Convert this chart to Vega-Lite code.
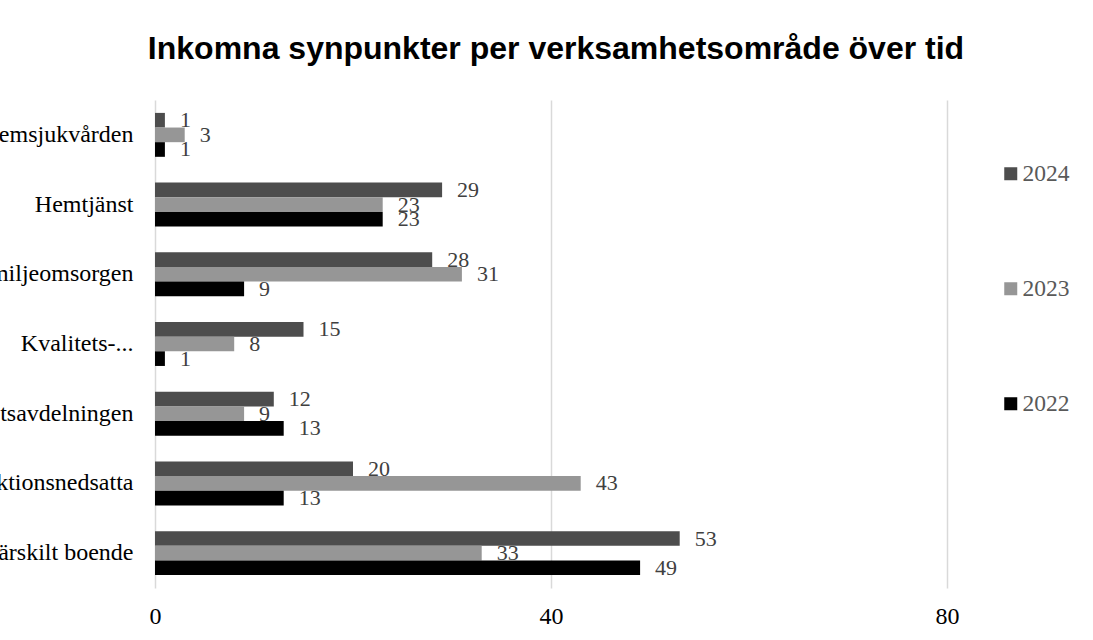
{
  "$schema": "https://vega.github.io/schema/vega-lite/v6.json",
  "width": 792,
  "height": 488,
  "autosize": {"type": "none"},
  "padding": {"left": 155, "top": 100, "right": 146, "bottom": 52},
  "background": "white",
  "title": {
    "text": "Inkomna synpunkter per verksamhetsområde över tid",
    "font": "Liberation Sans",
    "fontSize": 32,
    "fontWeight": "bold",
    "color": "#000000",
    "anchor": "middle",
    "frame": "group",
    "dx": 5,
    "offset": 34
  },
  "config": {
    "view": {"stroke": null},
    "axis": {"labelFont": "Liberation Serif"}
  },
  "data": {
    "values": [
      {"cat": "Hemsjukvården", "year": "2024", "value": 1},
      {"cat": "Hemsjukvården", "year": "2023", "value": 3},
      {"cat": "Hemsjukvården", "year": "2022", "value": 1},
      {"cat": "Hemtjänst", "year": "2024", "value": 29},
      {"cat": "Hemtjänst", "year": "2023", "value": 23},
      {"cat": "Hemtjänst", "year": "2022", "value": 23},
      {"cat": "Individ- och familjeomsorgen", "year": "2024", "value": 28},
      {"cat": "Individ- och familjeomsorgen", "year": "2023", "value": 31},
      {"cat": "Individ- och familjeomsorgen", "year": "2022", "value": 9},
      {"cat": "Kvalitets-...", "year": "2024", "value": 15},
      {"cat": "Kvalitets-...", "year": "2023", "value": 8},
      {"cat": "Kvalitets-...", "year": "2022", "value": 1},
      {"cat": "Myndighetsavdelningen", "year": "2024", "value": 12},
      {"cat": "Myndighetsavdelningen", "year": "2023", "value": 9},
      {"cat": "Myndighetsavdelningen", "year": "2022", "value": 13},
      {"cat": "Funktionsnedsatta", "year": "2024", "value": 20},
      {"cat": "Funktionsnedsatta", "year": "2023", "value": 43},
      {"cat": "Funktionsnedsatta", "year": "2022", "value": 13},
      {"cat": "Särskilt boende", "year": "2024", "value": 53},
      {"cat": "Särskilt boende", "year": "2023", "value": 33},
      {"cat": "Särskilt boende", "year": "2022", "value": 49}
    ]
  },
  "encoding": {
    "y": {
      "field": "cat",
      "type": "nominal",
      "sort": null,
      "scale": {"paddingInner": 0.37, "paddingOuter": 0.185},
      "axis": {
        "title": null,
        "domain": false,
        "ticks": false,
        "tickSize": 0,
        "labelFont": "Liberation Serif",
        "labelFontSize": 24,
        "labelColor": "#000000",
        "labelPadding": 22,
        "labelLimit": 1000
      }
    },
    "yOffset": {
      "field": "year",
      "type": "nominal",
      "sort": ["2024", "2023", "2022"]
    },
    "x": {
      "field": "value",
      "type": "quantitative",
      "scale": {"domain": [0, 80], "nice": false},
      "axis": {
        "title": null,
        "values": [0, 40, 80],
        "domain": false,
        "ticks": false,
        "tickSize": 0,
        "grid": true,
        "gridColor": "#d9d9d9",
        "gridWidth": 1.5,
        "labelFlush": false,
        "labelFont": "Liberation Serif",
        "labelFontSize": 24,
        "labelColor": "#000000",
        "labelPadding": 16
      }
    }
  },
  "layer": [
    {
      "mark": {"type": "bar"},
      "encoding": {
        "color": {
          "field": "year",
          "type": "nominal",
          "scale": {"domain": ["2024", "2023", "2022"], "range": ["#4d4d4d", "#969696", "#000000"]},
          "legend": {
            "orient": "none",
            "legendX": 844,
            "legendY": 62,
            "title": null,
            "symbolType": "square",
            "symbolSize": 169,
            "symbolStrokeWidth": 0,
            "symbolOpacity": 1,
            "labelFont": "Liberation Serif",
            "labelFontSize": 23.5,
            "labelColor": "#595959",
            "labelOffset": 0,
            "rowPadding": 90
          }
        }
      }
    },
    {
      "mark": {
        "type": "text",
        "align": "left",
        "baseline": "middle",
        "dx": 15,
        "font": "Liberation Serif",
        "fontSize": 22,
        "color": "#404040"
      },
      "encoding": {
        "text": {"field": "value", "type": "quantitative"}
      }
    }
  ]
}
